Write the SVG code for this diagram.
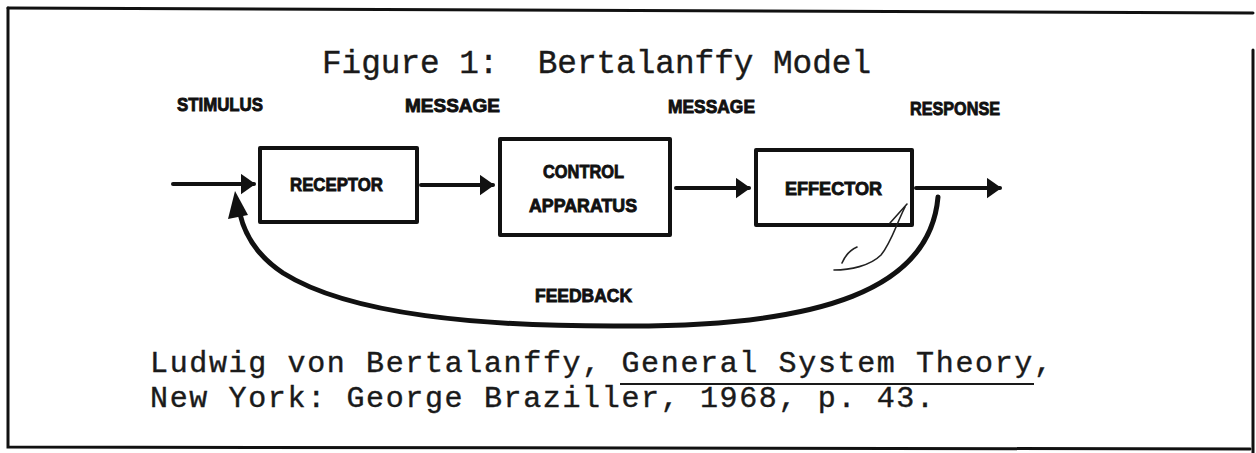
<svg xmlns="http://www.w3.org/2000/svg" width="1256" height="453" viewBox="0 0 1256 453">
<style>
.frame{fill:none;stroke:#111;stroke-width:3;stroke-linecap:round}
.box{fill:#fff;stroke:#111;stroke-width:4;stroke-linejoin:round}
.lbl{font-family:"Liberation Sans",Arial,sans-serif;font-weight:bold;font-size:19px;fill:#111;stroke:#111;stroke-width:0.9}
.mono{font-family:"Liberation Mono","Courier New",monospace;fill:#1a1a1a;stroke:#1a1a1a;stroke-width:0.4}
.conn{fill:none;stroke:#111;stroke-width:4;stroke-linecap:round}
.fb{fill:none;stroke:#111;stroke-width:5;stroke-linecap:round}
.pen{fill:none;stroke:#222;stroke-width:1.6;stroke-linecap:round}
.head{fill:#111}
</style>
<defs>
<marker id="ah" viewBox="0 0 10 14" refX="9" refY="7" markerWidth="3.75" markerHeight="5.25" markerUnits="strokeWidth" orient="auto">
<path d="M0,0 L10,7 L0,14 z" class="head"/>
</marker>
</defs>
<rect x="0" y="0" width="1256" height="453" fill="#fff"/>
<g id="frame">
<path class="frame" d="M8,8 L1253,13"/>
<path class="frame" d="M8,8 L8,447 L1250,449"/>
<path class="frame" d="M1253,50 L1253,453"/>
</g>
<g id="title">
<text class="mono" x="322" y="73" font-size="32.7" textLength="549" lengthAdjust="spacing" xml:space="preserve">Figure 1:  Bertalanffy Model</text>
</g>
<g id="labels">
<text class="lbl" x="177" y="111" textLength="86" lengthAdjust="spacingAndGlyphs">STIMULUS</text>
<text class="lbl" x="405" y="112" textLength="95" lengthAdjust="spacingAndGlyphs">MESSAGE</text>
<text class="lbl" x="668" y="113" textLength="87" lengthAdjust="spacingAndGlyphs">MESSAGE</text>
<text class="lbl" x="910" y="115" textLength="90" lengthAdjust="spacingAndGlyphs">RESPONSE</text>
<text class="lbl" x="535" y="302" textLength="97" lengthAdjust="spacingAndGlyphs">FEEDBACK</text>
</g>
<g id="receptor">
<rect class="box" x="260" y="148" width="157" height="74"/>
<text class="lbl" x="290" y="191" textLength="93" lengthAdjust="spacingAndGlyphs">RECEPTOR</text>
</g>
<g id="control-apparatus">
<rect class="box" x="500" y="139" width="170" height="96"/>
<text class="lbl" x="543" y="178" textLength="81" lengthAdjust="spacingAndGlyphs">CONTROL</text>
<text class="lbl" x="529" y="212" textLength="108" lengthAdjust="spacingAndGlyphs">APPARATUS</text>
</g>
<g id="effector">
<rect class="box" x="756" y="150" width="156" height="75"/>
<text class="lbl" x="785" y="195" textLength="97" lengthAdjust="spacingAndGlyphs">EFFECTOR</text>
</g>
<g id="connectors">
<line class="conn" x1="173" y1="184" x2="254" y2="184" marker-end="url(#ah)"/>
<line class="conn" x1="421" y1="185" x2="493" y2="185" marker-end="url(#ah)"/>
<line class="conn" x1="676" y1="188" x2="749" y2="188" marker-end="url(#ah)"/>
<line class="conn" x1="916" y1="188" x2="1000" y2="188" marker-end="url(#ah)"/>
<path class="fb" d="M938,197 C930,290 820,326 630,326 C480,327 350,315 283,273 C262,259 246,240 240,214"/>
<path class="head" d="M235,191 L248,215 L228,219 z"/>
</g>
<g id="pen-mark">
<path class="pen" d="M890,223 L907,204"/>
<path class="pen" d="M905,207 C896,225 891,243 881,255 C870,266 850,270 834,270"/>
<path class="pen" d="M842,263 C845,256 850,250 857,247"/>
</g>
<g id="citation">
<text class="mono" x="150" y="372" font-size="30" textLength="902" lengthAdjust="spacing" xml:space="preserve">Ludwig von Bertalanffy, General System Theory,</text>
<text class="mono" x="150" y="407" font-size="30" textLength="784" lengthAdjust="spacing" xml:space="preserve">New York: George Braziller, 1968, p. 43.</text>
<line x1="620" y1="384" x2="1034" y2="384" stroke="#1a1a1a" stroke-width="2.2"/>
</g>
</svg>
